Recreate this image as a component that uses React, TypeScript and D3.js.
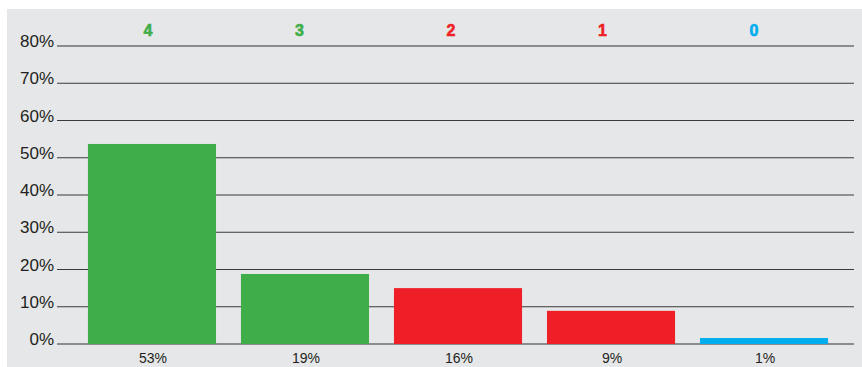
import React from "react";
import * as d3 from "d3";

const categories = ["4", "3", "2", "1", "0"];
const values = [53.7, 18.8, 15.0, 8.9, 1.6];
const valueLabels = ["53%", "19%", "16%", "9%", "1%"];
const barColors = ["#3FAE49", "#3FAE49", "#EE1F26", "#EE1F26", "#00AEEF"];
const yTicks = [0, 10, 20, 30, 40, 50, 60, 70, 80];

export default function App() {
  const W = 862, H = 367;
  const x = d3.scaleBand<string>().domain(categories).range([63, 853]).paddingInner(0.163).paddingOuter(0.163);
  const xTop = d3.scalePoint<string>().domain(categories).range([148, 754]);
  const y = d3.scaleLinear().domain([0, 80]).range([344, 46]);
  const gridX0 = 57, gridX1 = 854;
  const font = "'Liberation Sans', Arial, sans-serif";
  return (
    <svg width={W} height={H} style={{ position: "absolute", left: 0, top: 0 }} fontFamily={font}>
      <rect x={7} y={9} width={W - 7} height={H - 9} fill="#E6E7E8" />
      {yTicks.map((t) => (
        <g key={t}>
          <line x1={gridX0} x2={gridX1} y1={y(t)} y2={y(t)} stroke={t === 0 || t === 80 ? "#6d6e70" : "#3a3a3a"} strokeWidth={t === 0 || t === 80 ? 1.6 : 1.2} />
          <text x={54} y={y(t) + 1} textAnchor="end" fontSize={17} fill="#231F20">{t}%</text>
        </g>
      ))}
      {categories.map((c, i) => (
        <g key={c}>
          <rect x={x(c)} y={y(values[i])} width={x.bandwidth()} height={y(0) - y(values[i])} fill={barColors[i]} />
          <text x={(x(c) as number) + x.bandwidth() / 2 + 1} y={363} textAnchor="middle" fontSize={14} fill="#231F20">{valueLabels[i]}</text>
          <text x={xTop(c)} y={36} textAnchor="middle" fontSize={16} fontWeight="900" fill={barColors[i]} stroke={barColors[i]} strokeWidth={0.6}>{c}</text>
        </g>
      ))}
    </svg>
  );
}
